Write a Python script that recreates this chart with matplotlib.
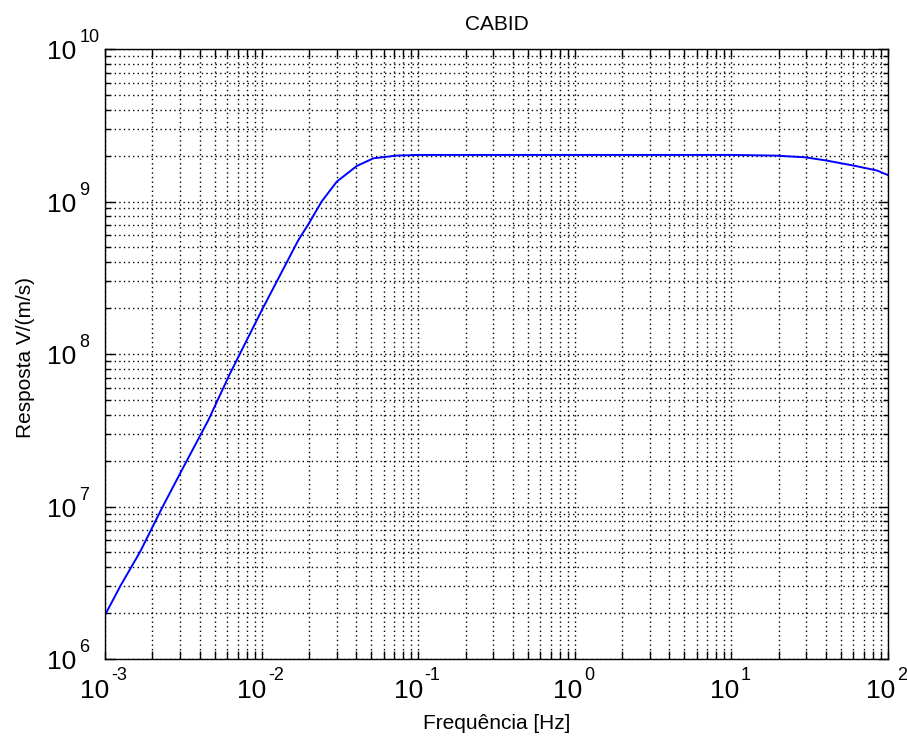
import matplotlib
matplotlib.use('Agg')
import numpy as np
import matplotlib.pyplot as plt
from matplotlib.ticker import LogLocator, NullFormatter
from matplotlib.font_manager import FontProperties

plt.rcParams['font.family'] = ['Liberation Sans', 'DejaVu Sans']

# velocity response of the CABID station (Hz, V/(m/s))
freq = [1e-3, 1.254e-3, 1.667e-3, 2.293e-3, 3.08e-3, 4.55e-3, 6.27e-3, 1.0e-2,
        1.71e-2, 2.0e-2, 2.41e-2, 3.01e-2, 4.04e-2, 5.16e-2, 7.28e-2, 0.1,
        1.0, 10.0, 19.0, 29.5, 40.7, 60.3, 85.0, 100.0]
resp = [1.96e6, 3.04e6, 5.04e6, 9.7e6, 1.73e7, 3.68e7, 7.47e7, 1.94e8,
        5.58e8, 7.2e8, 1.0e9, 1.35e9, 1.71e9, 1.92e9, 2.0e9, 2.02e9,
        2.02e9, 2.02e9, 2.0e9, 1.95e9, 1.854e9, 1.72e9, 1.597e9, 1.49e9]
xticks = [1e-3, 1e-2, 1e-1, 1e0, 1e1, 1e2]
xtick_exps = ['-3', '-2', '-1', '0', '1', '2']
yticks = [1e6, 1e7, 1e8, 1e9, 1e10]
ytick_exps = ['6', '7', '8', '9', '10']

fig = plt.figure(figsize=(9.07, 7.38), dpi=100)
ax = fig.add_axes([0.1161, 0.107, 0.8630, 0.8266])

ax.loglog(freq, resp, color='#0000ff', lw=1.4)
ax.set_xlim(1e-3, 1e2)
ax.set_ylim(1e6, 1e10)

ax.set_xticks(xticks)
ax.set_yticks(yticks)
ax.set_xticklabels([])
ax.set_yticklabels([])
ax.xaxis.set_minor_locator(LogLocator(base=10, subs=np.arange(2, 10), numticks=20))
ax.yaxis.set_minor_locator(LogLocator(base=10, subs=np.arange(2, 10), numticks=20))
ax.xaxis.set_minor_formatter(NullFormatter())
ax.yaxis.set_minor_formatter(NullFormatter())

ax.tick_params(which='both', direction='in', top=True, right=True, width=1.0)
ax.tick_params(axis='x', which='both', length=6)
ax.tick_params(axis='y', which='major', length=7)
ax.tick_params(axis='y', which='minor', length=3.5)

# dotted grid on every decade and sub-decade line
for which in ('major', 'minor'):
    ax.grid(True, which=which, color='black', lw=1.0, linestyle=(0, (1, 2.3)))

for s in ax.spines.values():
    s.set_linewidth(1.0)

# "10" with a raised exponent, drawn as two texts per tick
base_fp = FontProperties(family='Liberation Sans', size=19)
exp_fp = FontProperties(family='Liberation Sans', size=13)
renderer = fig.canvas.get_renderer()

def text_w(s, fp):
    return renderer.get_text_width_height_descent(s, fp, ismath=False)[0]

base_w = text_w('10', base_fp)
gap = 1.5
for v, e in zip(xticks, xtick_exps):
    total = base_w + gap + text_w(e, exp_fp)
    x0 = -total / 2 - 1.5
    ax.annotate('10', xy=(v, 0), xycoords=('data', 'axes fraction'),
                xytext=(x0, -39), textcoords='offset pixels',
                ha='left', va='baseline', fontproperties=base_fp, annotation_clip=False)
    ax.annotate(e, xy=(v, 0), xycoords=('data', 'axes fraction'),
                xytext=(x0 + base_w + gap, -21), textcoords='offset pixels',
                ha='left', va='baseline', fontproperties=exp_fp, annotation_clip=False)

for v, e in zip(yticks, ytick_exps):
    ax.annotate('10', xy=(0, v), xycoords=('axes fraction', 'data'),
                xytext=(-58, -10), textcoords='offset pixels',
                ha='left', va='baseline', fontproperties=base_fp, annotation_clip=False)
    ax.annotate(e, xy=(0, v), xycoords=('axes fraction', 'data'),
                xytext=(-58 + base_w + gap + 1.5, 7), textcoords='offset pixels',
                ha='left', va='baseline', fontproperties=exp_fp, annotation_clip=False)

ax.set_title('CABID', fontsize=15, pad=14)
ax.set_xlabel('Frequência [Hz]', fontsize=15)
ax.set_ylabel('Resposta V/(m/s)', fontsize=15)
ax.xaxis.set_label_coords(0.5, -0.090)
ax.yaxis.set_label_coords(-0.090, 0.494)

plt.savefig('out.png', dpi=100)
plt.close()
